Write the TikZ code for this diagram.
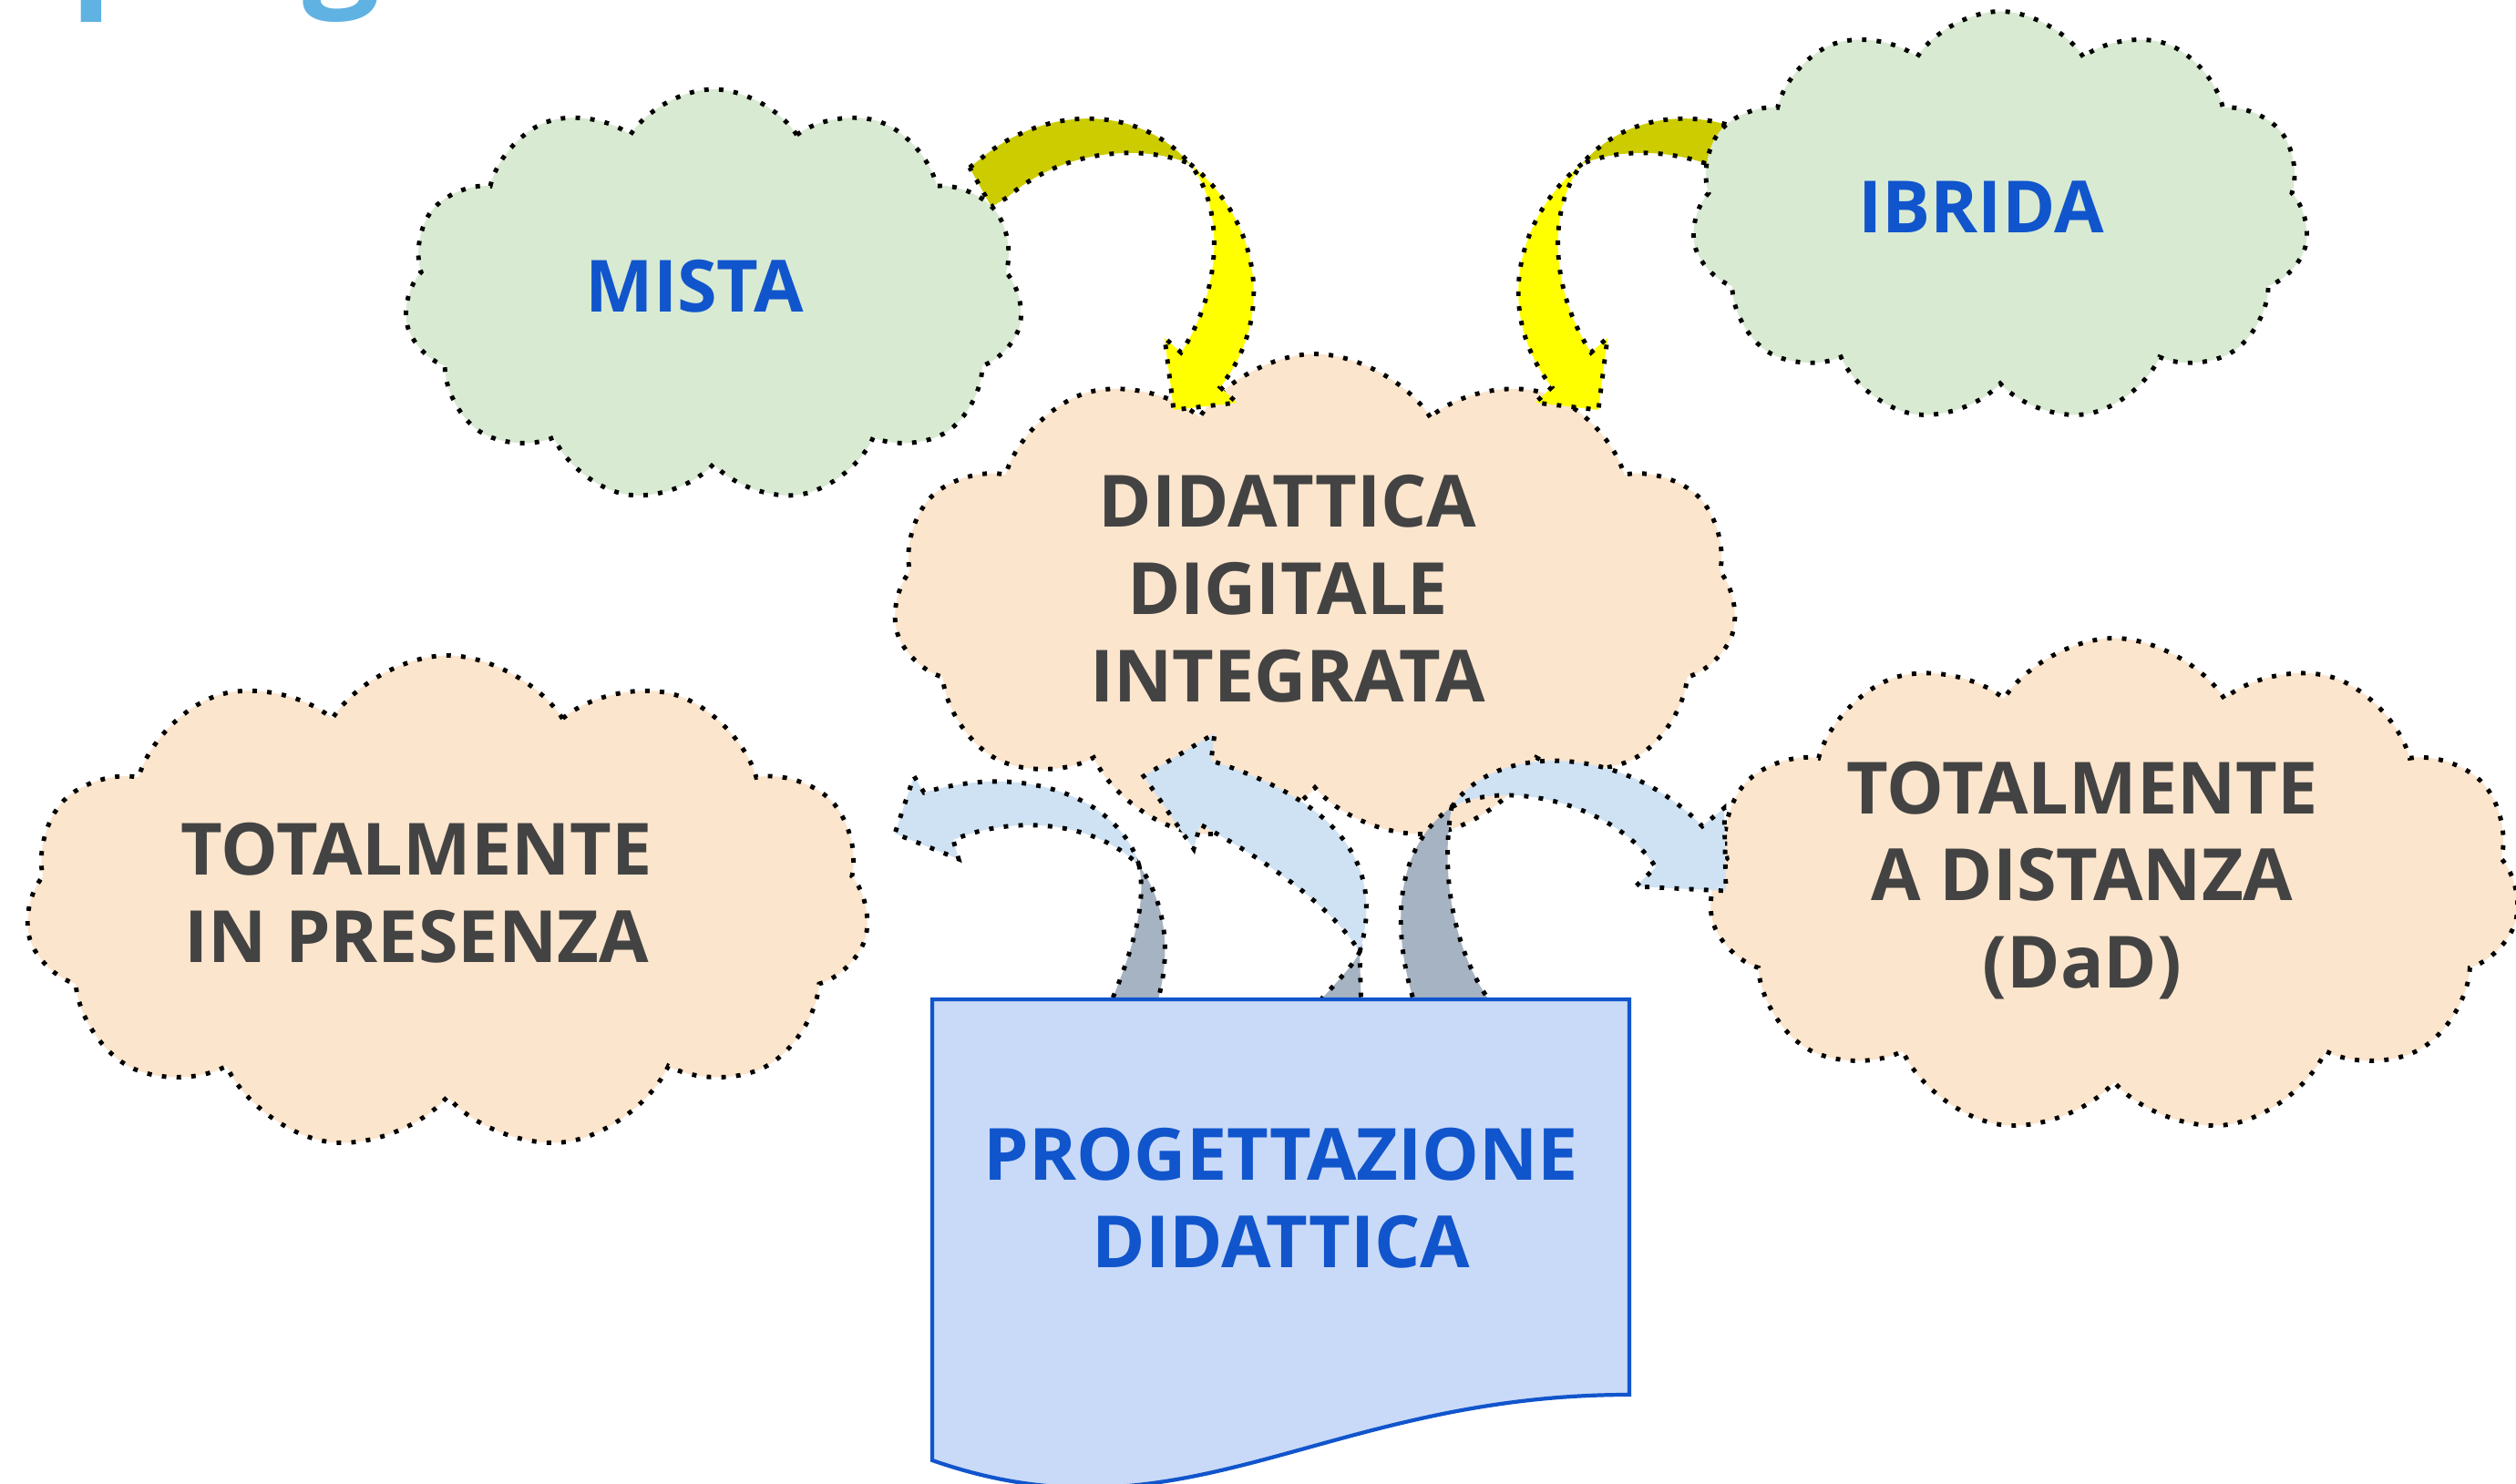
\documentclass[tikz,border=0pt]{standalone}
\usepackage{fontspec}
\setmainfont{Open Sans}
\usetikzlibrary{shapes.symbols,positioning}

\definecolor{verdechiaro}{HTML}{D9EAD3}
\definecolor{pesca}{HTML}{FCE5CD}
\definecolor{azzurro}{HTML}{CFE2F3}
\definecolor{grigioblu}{RGB}{166,179,194}
\definecolor{giallo}{HTML}{FFFF00}
\definecolor{oliva}{HTML}{CCCC00}
\definecolor{blu}{HTML}{1155CC}
\definecolor{foglio}{HTML}{C9DAF8}
\definecolor{grigioscuro}{HTML}{434343}
\definecolor{celeste}{RGB}{95,178,226}

\tikzset{
  puntini/.style={draw=black, line width=1.4pt, dash pattern=on 1.4pt off 3.2pt},
  nuvola/.style={cloud, cloud puffs=11, cloud puff arc=115, cloud ignores aspect, puntini, inner sep=0pt},
  nuvolaverde/.style={nuvola, fill=verdechiaro},
  nuvolapesca/.style={nuvola, fill=pesca},
  scritta/.style={font=\fontsize{22.5}{27.3}\selectfont\bfseries, text=grigioscuro, align=center, inner sep=0pt},
  scrittablu/.style={scritta, text=blu},
  titolo/.style={font=\fontsize{42.7}{50}\selectfont\bfseries, text=celeste, inner sep=0pt, anchor=base west},
  freccia gialla/.pic={
    % parte posteriore
    \path[puntini, fill=oliva] (10.64,-1.84) -- (10.79,-1.72)
      .. controls (11.50,-1.15) and (12.50,-1.15) .. (13.06,-1.80)
      .. controls (12.60,-1.60) and (11.70,-1.60) .. (11.05,-2.17)
      -- (10.88,-2.27) -- cycle;
    % parte anteriore con punta
    \path[puntini, fill=giallo] (13.06,-1.80)
      .. controls (13.75,-2.35) and (14.05,-3.40) .. (13.39,-4.25)
      -- (13.57,-4.42) -- (12.88,-4.50) -- (12.78,-3.71) -- (12.96,-3.87)
      .. controls (13.40,-3.20) and (13.45,-2.30) .. (13.06,-1.80) -- cycle;
  }
}

\begin{document}
\begin{tikzpicture}
\useasboundingbox[fill=white] (0,0) rectangle (27.61,-16.29);

% titolo tagliato
\node[titolo] (titoloP) at (0.77,0.11) {p};
\node[titolo] (titoloG) at (3.32,0.11) {g};

% nuvole arancio
\node[nuvolapesca, minimum width=9.26cm, minimum height=5.37cm] (ddi) at (14.43,-6.57) {};
\node[nuvolapesca, minimum width=9.26cm, minimum height=5.45cm] (presenza) at (4.91,-9.92) {};
\node[nuvolapesca, minimum width=8.90cm, minimum height=5.45cm] (distanza) at (23.20,-9.73) {};

% frecce gialle
\pic at (0,0) {freccia gialla};
\pic[xscale=-1] at (30.42,0) {freccia gialla};

% nuvole verdi
\node[nuvolaverde, minimum width=6.79cm, minimum height=4.54cm] (mista) at (7.83,-3.25) {};
\node[nuvolaverde, minimum width=6.77cm, minimum height=4.51cm] (ibrida) at (21.95,-2.38) {};

% frecce azzurre
\path[puntini, fill=grigioblu] (12.15,-11.10) .. controls (12.45,-10.40) and (12.58,-9.90) .. (12.50,-9.50)
  .. controls (12.75,-9.85) and (12.90,-10.40) .. (12.67,-11.10) -- cycle;
\path[puntini, fill=azzurro] (12.50,-9.50) .. controls (12.30,-8.80) and (11.30,-8.35) .. (10.14,-8.70)
  -- (10.03,-8.52) -- (9.82,-9.15) -- (10.52,-9.43) -- (10.46,-9.22)
  .. controls (11.10,-8.95) and (12.00,-9.00) .. (12.50,-9.50) -- cycle;

\path[puntini, fill=grigioblu] (14.38,-11.10) .. controls (14.65,-10.80) and (14.85,-10.60) .. (14.92,-10.45)
  -- (14.94,-11.10) -- cycle;
\path[puntini, fill=azzurro] (14.92,-10.45) .. controls (15.20,-9.50) and (14.70,-8.80) .. (13.29,-8.35)
  -- (13.33,-8.05) -- (12.55,-8.52) -- (13.10,-9.32) -- (13.17,-9.05)
  .. controls (14.00,-9.50) and (14.65,-10.00) .. (14.92,-10.45) -- cycle;

\path[puntini, fill=grigioblu] (15.55,-11.10) .. controls (15.25,-10.20) and (15.30,-9.30) .. (15.93,-8.86)
  .. controls (15.80,-9.60) and (15.95,-10.50) .. (16.43,-11.10) -- cycle;
\path[puntini, fill=azzurro] (15.93,-8.86) .. controls (16.40,-8.15) and (17.80,-8.15) .. (18.68,-9.07)
  -- (18.92,-8.87) -- (18.94,-9.78) -- (17.95,-9.73) -- (18.17,-9.52)
  .. controls (17.70,-8.80) and (16.50,-8.55) .. (15.93,-8.86) -- cycle;

% foglio
\path[draw=blu, line width=1.2pt, fill=foglio] (10.23,-10.97) -- (17.88,-10.97) -- (17.88,-15.31)
  .. controls (14.50,-15.31) and (13.00,-17.00) .. (10.23,-16.03) -- cycle;

% testi
\node[scrittablu] (mistaT) at ([shift={(-0.21,0.11)}]mista.center) {MISTA};
\node[scrittablu] (ibridaT) at ([shift={(-0.21,0.11)}]ibrida.center) {IBRIDA};
\node[scritta] (ddiT) at ([shift={(-0.30,0.11)}]ddi.center) {DIDATTICA\\DIGITALE\\INTEGRATA};
\node[scritta] (presenzaT) at ([shift={(-0.34,0.12)}]presenza.center) {TOTALMENTE\\IN PRESENZA};
\node[scritta, anchor=north] (distanzaT) at ([shift={(-0.35,1.38)}]distanza.center) {TOTALMENTE\\A DISTANZA\\(DaD)};
\node[scrittablu] (progetto) at (14.06,-13.15) {PROGETTAZIONE\\DIDATTICA};
\end{tikzpicture}
\end{document}
